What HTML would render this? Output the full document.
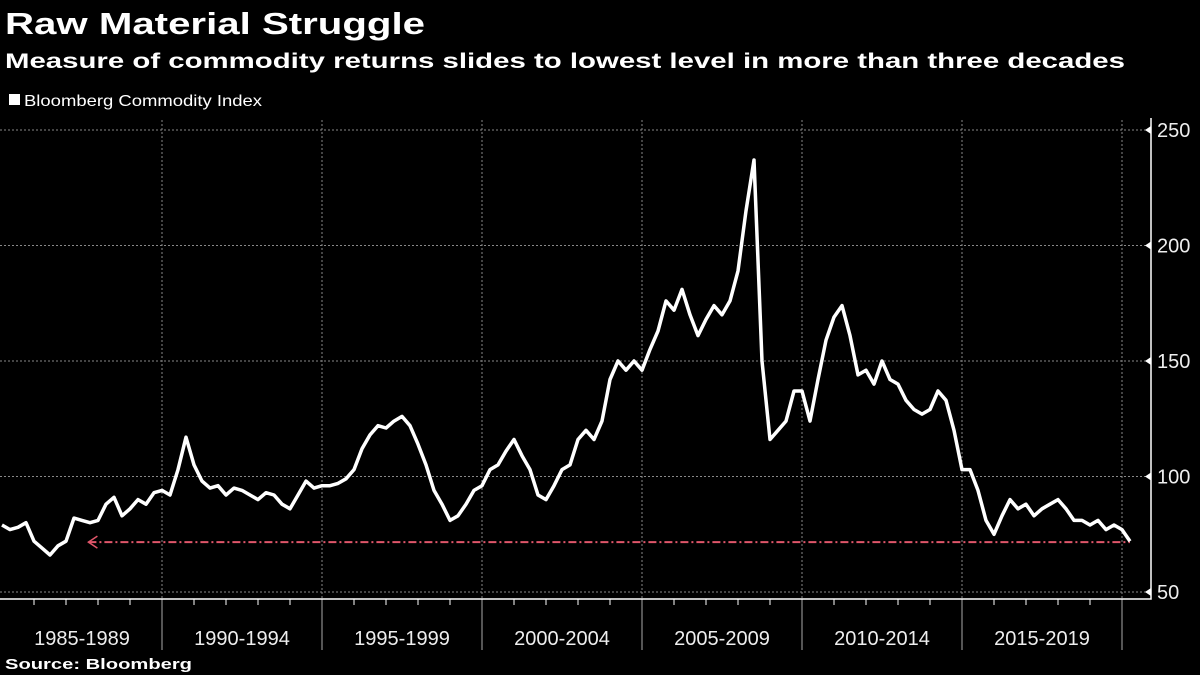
<!DOCTYPE html>
<html><head><meta charset="utf-8"><style>
html,body{margin:0;padding:0;background:#000;}
svg{display:block;font-family:"Liberation Sans",sans-serif;}
</style></head><body>
<svg id="chart" width="1200" height="675" viewBox="0 0 1200 675">
<text x="5" y="34" font-size="31" font-weight="bold" fill="#fff" textLength="420" lengthAdjust="spacingAndGlyphs">Raw Material Struggle</text>
<text x="5" y="68" font-size="21" font-weight="bold" fill="#fff" textLength="1120" lengthAdjust="spacingAndGlyphs">Measure of commodity returns slides to lowest level in more than three decades</text>
<rect x="9" y="94" width="11" height="11" fill="#fff"/>
<text x="24" y="106" font-size="16" fill="#fff" textLength="238" lengthAdjust="spacingAndGlyphs">Bloomberg Commodity Index</text>
<g id="grid"></g><g id="axes"></g><g id="series"></g>
<text x="5" y="669" font-size="15" font-weight="bold" fill="#fff" textLength="187" lengthAdjust="spacingAndGlyphs">Source: Bloomberg</text>
</svg>
<script>
const yTicks=[50,100,150,200,250];
const periodLabels=["1985-1989","1990-1994","1995-1999","2000-2004","2005-2009","2010-2014","2015-2019"];
const startYear=1985;
const refLevel=71.6;
const values=[79,77,78,80,72,69,66,70,72,82,81,80,81,88,91,83,86,90,88,93,
94,92,103,117,105,98,95,96,92,95,94,92,90,93,92,88,86,92,98,95,
96,96,97,99,103,112,118,122,121,124,126,122,114,105,94,88,81,83,88,94,
96,103,105,111,116,109,103,92,90,96,103,105,116,120,116,124,142,150,146,150,
146,155,163,176,172,181,170,161,168,174,170,176,189,215,237,150,116,120,124,137,
137,124,142,159,169,174,161,144,146,140,150,142,140,133,129,127,129,137,133,120,
103,103,94,81,75,83,90,86,88,83,86,88,90,86,81,81,79,81,77,79,77,72];
const NS="http://www.w3.org/2000/svg";
function xs(t){return 2+(t-startYear)*32;}
function ys(v){return 592-(v-50)*2.31;}
function mk(tag,attrs,parent){const e=document.createElementNS(NS,tag);for(const k in attrs)e.setAttribute(k,attrs[k]);parent.appendChild(e);return e;}
const grid=document.getElementById('grid'),axes=document.getElementById('axes'),series=document.getElementById('series');
yTicks.forEach(v=>{
 const l=mk('line',{x1:0,x2:1151,y1:ys(v),y2:ys(v),stroke:'#888','stroke-width':1,'stroke-dasharray':'2,2'},grid);
 
 
 const tri=mk('path',{d:`M1151 ${ys(v)-4}L1145 ${ys(v)}L1151 ${ys(v)+4}Z`,fill:'#fff'},axes);
 
 
 const t=mk('text',{x:1157,y:ys(v)+7,'font-size':20,fill:'#eee'},axes);
 t.textContent=v;
 
 
});
for(let k=1;k<=periodLabels.length;k++){
 const x=xs(startYear+5*k);
 const g=mk('line',{x1:x,x2:x,y1:120,y2:599,stroke:'#888','stroke-width':1,'stroke-dasharray':'2,2'},grid);
 
 
 const m=mk('line',{x1:x,x2:x,y1:599,y2:650,stroke:'#aaa','stroke-width':1},axes);
 
 
}
for(let yr=startYear+1;yr<startYear+36;yr++){
 if((yr-startYear)%5===0)continue;
 const x=xs(yr);
 const tk=mk('line',{x1:x,x2:x,y1:599,y2:605,stroke:'#fff','stroke-width':1},axes);
 
 
}
const ax=mk('path',{d:'M0 599H1151V118',stroke:'#fff','stroke-width':1.5,fill:'none'},axes);


periodLabels.forEach((s,i)=>{
 const t=mk('text',{x:xs(startYear+5*i+2.5),y:645,'font-size':20,fill:'#eee','text-anchor':'middle'},axes);
 t.textContent=s;
 
 
});
const lastT=startYear+(values.length-1)*0.25;
const rl=mk('line',{x1:xs(startYear+2.7),x2:xs(lastT),y1:ys(refLevel),y2:ys(refLevel),stroke:'#e0566a','stroke-width':2,'stroke-dasharray':'8,3,2,3'},series);


const ah=mk('path',{d:`M${xs(startYear+2.7)+9} ${ys(refLevel)-6}L${xs(startYear+2.7)} ${ys(refLevel)}L${xs(startYear+2.7)+9} ${ys(refLevel)+6}`,stroke:'#e0566a','stroke-width':1.5,fill:'none'},series);


const d=values.map((v,i)=>(i?'L':'M')+xs(startYear+i*0.25).toFixed(1)+' '+ys(v).toFixed(1)).join('');
const p=mk('path',{d:d,stroke:'#fff','stroke-width':3.5,fill:'none','stroke-linejoin':'round'},series);


</script>
</body></html>
